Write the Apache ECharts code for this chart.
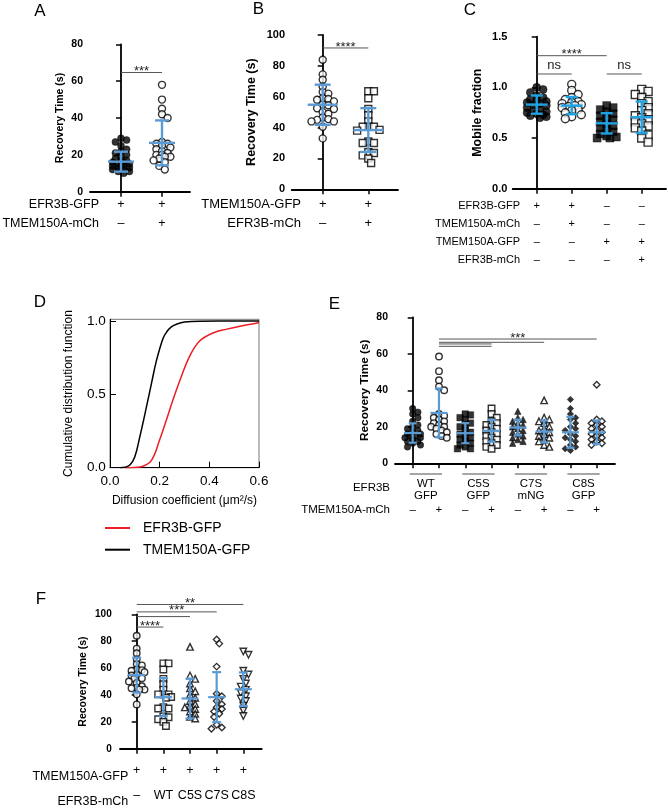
<!DOCTYPE html>
<html><head><meta charset="utf-8">
<script src="https://cdn.jsdelivr.net/npm/echarts@6/dist/echarts.min.js"></script>
<style>html,body{margin:0;padding:0;background:#fff}#c{width:668px;height:808px}</style>
</head><body><div id="c"></div>
<script>
const FONT = '"Liberation Sans", Arial, Helvetica, sans-serif';

// ---------- Panel A ----------
const A_rowNames = ['EFR3B-GFP', 'TMEM150A-mCh'];
const A_colLabels = ['+\n–', '+\n+'];
const A_efr = [29, 28, 27, 25, 23, 22, 21, 20, 19, 18, 17, 17, 16, 16, 15, 15, 14, 14, 14, 13, 13, 12, 12, 11, 11, 10];
const A_efrTmem = [58, 50, 45, 42, 40, 27, 26, 26, 25, 24, 23, 22, 21, 20, 20, 19, 19, 18, 17, 16, 14, 12];
const A_means = [16.3, 26.5];
const A_sds = [5.4, 12.2];
const A_sig = [[0, 1, 64.7, '***']];

// ---------- Panel B ----------
const B_rowNames = ['TMEM150A-GFP', 'EFR3B-mCh'];
const B_colLabels = ['+\n–', '+\n+'];
const B_tmem = [84, 74.5, 71, 66.5, 63, 62, 59, 58.5, 58, 57, 55, 54.5, 52.5, 52, 50, 49, 46.5, 45.5, 45, 44, 44, 40.5, 33];
const B_tmemEfr = [63.5, 63.5, 59, 52, 48, 44, 40.5, 40.5, 40.5, 38.5, 38, 31, 30, 30, 24, 23.5, 22, 20, 17];
const B_means = [54.8, 38.4];
const B_sds = [13, 14.2];
const B_sig = [[0, 1, 91.6, '****']];

// ---------- Panel C ----------
const C_rowNames = ['EFR3B-GFP', 'TMEM150A-mCh', 'TMEM150A-GFP', 'EFR3B-mCh'];
const C_colLabels = ['+\n–\n–\n–', '+\n+\n–\n–', '–\n–\n+\n–', '–\n–\n+\n+'];
const C_efr = [1.0, 0.98, 0.95, 0.92, 0.9, 0.88, 0.87, 0.86, 0.85, 0.84, 0.83, 0.82, 0.8, 0.78, 0.77, 0.76, 0.75, 0.74, 0.73, 0.72, 0.71, 0.70];
const C_efrTmem = [1.03, 0.97, 0.93, 0.9, 0.88, 0.86, 0.85, 0.84, 0.83, 0.82, 0.81, 0.8, 0.78, 0.77, 0.75, 0.73, 0.71, 0.69];
const C_tmem = [0.82, 0.8, 0.78, 0.76, 0.74, 0.72, 0.7, 0.68, 0.66, 0.64, 0.62, 0.6, 0.58, 0.56, 0.54, 0.52, 0.51, 0.5, 0.5];
const C_tmemEfr = [0.98, 0.96, 0.93, 0.9, 0.86, 0.84, 0.8, 0.77, 0.74, 0.72, 0.7, 0.68, 0.66, 0.64, 0.62, 0.6, 0.57, 0.53, 0.5, 0.46];
const C_means = [0.83, 0.82, 0.645, 0.705];
const C_sds = [0.09, 0.085, 0.1, 0.155];
const C_sig = [[0, 2, 1.3125, '****'], [0, 1, 1.132, 'ns'], [2, 3, 1.132, 'ns']];

// ---------- Panel D ----------
const D_names = ['EFR3B-GFP', 'TMEM150A-GFP'];
const D_redX = [0.06, 0.1, 0.133, 0.167, 0.2, 0.227, 0.253, 0.287, 0.32, 0.36, 0.417, 0.47, 0.524, 0.578, 0.6];
const D_redY = [0, 0.002, 0.01, 0.05, 0.19, 0.325, 0.46, 0.62, 0.757, 0.862, 0.92, 0.945, 0.965, 0.982, 0.99];
const D_blackX = [0.04, 0.06, 0.08, 0.1, 0.12, 0.147, 0.167, 0.187, 0.213, 0.228, 0.247, 0.27, 0.3, 0.36, 0.6];
const D_blackY = [0, 0.003, 0.018, 0.075, 0.21, 0.416, 0.575, 0.73, 0.88, 0.925, 0.96, 0.98, 0.993, 0.999, 1.0];

// ---------- Panel E ----------
const E_rowNames = ['EFR3B', 'TMEM150A-mCh'];
const E_colLabels = ['–', '+', '–', '+', '–', '+', '–', '+'];
const E_pairLabels = ['WT\nGFP', 'C5S\nGFP', 'C7S\nmNG', 'C8S\nGFP'];
const E_wt = [30, 28, 27, 25, 23, 21, 20, 19, 18, 17, 16, 16, 15, 15, 14, 14, 13, 12, 12, 11, 10, 9];
const E_wtTmem = [58.5, 50.5, 45.5, 42, 40, 27, 26, 25, 24, 23, 22, 21, 20, 20, 19, 18, 17, 16, 15, 14];
const E_c5s = [27, 26.5, 25, 24, 22, 21, 20, 18, 17, 16, 15, 14, 13, 12, 11, 10, 9, 8, 8];
const E_c5sTmem = [30, 27, 25, 23, 22, 21, 20, 19, 18, 17, 16, 15, 14, 13, 12, 11, 10, 9, 8];
const E_c7s = [28.5, 25, 24, 23, 22, 21, 20, 19, 18, 17, 16, 15, 14, 13, 12, 11];
const E_c7sTmem = [34.5, 25, 24, 23, 22, 20, 19, 18, 17, 16, 15, 14, 13, 12, 10, 9];
const E_c8s = [35, 30, 27, 25, 24, 22, 20, 19, 18, 16, 15, 14, 13, 12, 10, 9, 8, 7];
const E_c8sTmem = [43, 24, 23, 22, 21, 20, 19, 18, 17, 16, 15, 14, 13, 12, 11, 10];
const E_means = [16.6, 27.6, 16.5, 17.8, 19.6, 17.4, 17.0, 17.0];
const E_sds = [5.3, 13.4, 5.5, 6.0, 4.3, 6.0, 8.5, 6.5];
const E_sig = [[1, 7, 68.1, '***'], [1, 5, 66.3, ''], [1, 3, 65.4, ''], [1, 3, 64.1, '']];

// ---------- Panel F ----------
const F_rowNames = ['TMEM150A-GFP', 'EFR3B-mCh'];
const F_colLabels = ['+\n–', '+\nWT', '+\nC5S', '+\nC7S', '+\nC8S'];
const F_none = [84, 74.5, 71, 66.5, 63, 62, 59, 58.5, 58, 57, 55, 54.5, 52.5, 52, 50, 49, 46.5, 45.5, 45, 44, 44, 40.5, 33];
const F_wt = [63.5, 63.5, 59, 52, 48, 44, 40.5, 40.5, 40.5, 38.5, 38, 31, 30, 30, 24, 23.5, 22, 20, 17];
const F_c5s = [75.8, 54.5, 52, 48.6, 45, 42.7, 40.3, 37.9, 35.5, 33.2, 32, 30.8, 29.6, 27.7, 26, 23.7, 22.5];
const F_c7s = [81.3, 78.2, 61.1, 41, 39, 35.5, 33.2, 30.8, 29.6, 27.7, 26, 23.7, 17.8, 15.9, 14.9];
const F_c8s = [72.3, 69.9, 58, 55.2, 52, 48.6, 46.2, 43.8, 41.5, 39.1, 37.4, 35.5, 32, 28.4, 24.4];
const F_means = [54.8, 38.4, 37.4, 38.4, 44.3];
const F_sds = [13, 14.2, 14.8, 18.6, 12.5];
const F_sig = [[0, 4, 107.3, '**'], [0, 3, 101.8, '***'], [0, 2, 98.3, ''], [0, 1, 90.5, '****']];

// ================= build =================
const option = {
  animation: false,
  backgroundColor: '#fff',
  textStyle: { fontFamily: FONT },
  grid: [], xAxis: [], yAxis: [], series: [], graphic: []
};

// dot-plot layout: spread points sideways only as far as maxOff pixels
function swarm(vals, cat, pxX, pxY, size, maxOff) {
  const order = vals.map((v, i) => i).sort((a, b) => vals[b] - vals[a]);
  const placed = [], out = [];
  const minD = size * 0.75, step = size * 0.4;
  const cands = [0];
  for (let k = 1; k * step <= maxOff + 0.01; k++) { cands.push(k * step, -k * step); }
  order.forEach(i => {
    const y = vals[i] * pxY;
    let best = 0, bestD = -1;
    for (const c of cands) {
      const d = placed.length ? Math.min(...placed.map(p => Math.hypot(p[0] - c, p[1] - y))) : 1e9;
      if (d >= minD) { best = c; bestD = d; break; }
      if (d > bestD) { bestD = d; best = c; }
    }
    placed.push([best, y]);
    out.push([cat + best / pxX, vals[i]]);
  });
  return out;
}

function dotPanel(P) {
  const gi = option.grid.length;
  option.grid.push(Object.assign({ containLabel: false }, P.grid));
  const cats = P.colLabels.map((s, i) => i);
  option.xAxis.push({
    type: 'value', gridIndex: gi, min: P.xMin, max: P.xMax,
    axisLine: { show: true, onZero: false, lineStyle: { color: '#000', width: 1.8 } },
    axisTick: { show: true, customValues: cats, length: 5, lineStyle: { color: '#000', width: 1.5 } },
    axisLabel: { customValues: cats, formatter: v => P.colLabels[Math.round(v)], color: '#000',
      fontSize: P.colFont, lineHeight: P.colLH, margin: P.colMargin, fontFamily: FONT },
    splitLine: { show: false }
  });
  option.yAxis.push({
    type: 'value', gridIndex: gi, min: 0, max: P.yMax, interval: P.yInterval,
    axisLine: { show: true, lineStyle: { color: '#000', width: 1.8 } },
    axisTick: { show: true, length: 5, lineStyle: { color: '#000', width: 1.5 } },
    axisLabel: { color: '#000', fontWeight: 'bold', fontSize: P.tickFont, margin: P.yLabelMargin,
      fontFamily: FONT, formatter: v => P.yDecimals ? v.toFixed(P.yDecimals) : String(v) },
    splitLine: { show: false },
    name: P.title, nameLocation: 'middle', nameGap: P.titleGap,
    nameTextStyle: { color: '#000', fontWeight: 'bold', fontSize: P.titleFont, fontFamily: FONT }
  });
  const pxX = P.grid.width / (P.xMax - P.xMin);
  const pxY = P.grid.height / P.yMax;
  P.groups.forEach((g, k) => {
    option.series.push({
      type: 'scatter', name: P.id + '_g' + k, xAxisIndex: gi, yAxisIndex: gi, z: 3,
      symbol: g.sym, symbolSize: P.symSize, symbolRotate: g.rot || 0,
      itemStyle: g.open ? { color: '#fff', borderColor: '#000', borderWidth: 1.4 }
                        : { color: '#000', borderColor: '#000', borderWidth: 0.5 },
      data: swarm(g.vals, k, pxX, pxY, P.symSize, P.spread)
    });
  });
  option.series.push({
    type: 'custom', name: P.id + '_err', xAxisIndex: gi, yAxisIndex: gi, z: 6, clip: false,
    data: P.means.map((m, k) => [k, m, P.sds[k]]),
    renderItem: (params, api) => {
      const x = api.value(0), m = api.value(1), s = api.value(2);
      const c = api.coord([x, m]), t = api.coord([x, m + s]), b = api.coord([x, m - s]);
      const st = { stroke: P.barColor, lineWidth: P.barW };
      return { type: 'group', children: [
        { type: 'line', shape: { x1: c[0], y1: t[1], x2: c[0], y2: b[1] }, style: st },
        { type: 'line', shape: { x1: c[0] - P.capW / 2, y1: t[1], x2: c[0] + P.capW / 2, y2: t[1] }, style: st },
        { type: 'line', shape: { x1: c[0] - P.capW / 2, y1: b[1], x2: c[0] + P.capW / 2, y2: b[1] }, style: st },
        { type: 'line', shape: { x1: c[0] - P.meanW / 2, y1: c[1], x2: c[0] + P.meanW / 2, y2: c[1] }, style: st }
      ] };
    }
  });
  option.series.push({
    type: 'custom', name: P.id + '_sig', xAxisIndex: gi, yAxisIndex: gi, z: 7, clip: false,
    data: P.sig.map((s, k) => [s[0], s[1], s[2], k]),
    renderItem: (params, api) => {
      const s = P.sig[params.dataIndex];
      const p1 = api.coord([s[0], s[2]]), p2 = api.coord([s[1], s[2]]);
      const ch = [{ type: 'line', shape: { x1: p1[0], y1: p1[1], x2: p2[0], y2: p2[1] },
        style: { stroke: '#555', lineWidth: 1 } }];
      if (s[3]) {
        const isNs = s[3] === 'ns';
        ch.push({ type: 'text', x: (p1[0] + p2[0]) / 2, y: p1[1] + (isNs ? -9 : -1),
          style: { text: s[3], fill: '#222', font: '13px ' + FONT,
            align: 'center', verticalAlign: 'middle' } });
      }
      return { type: 'group', children: ch };
    }
  });
  P.rowNames.forEach((r, i) => {
    option.graphic.push({ type: 'text', x: P.rowX, y: P.rowY[i],
      style: { text: r, fill: '#000', font: P.rowFont + 'px ' + FONT, align: 'right', verticalAlign: 'middle' } });
  });
  return gi;
}

// Panel A
dotPanel({ id: 'A', grid: { left: 90, top: 44.3, width: 100, height: 147.4 }, xMin: -0.756, xMax: 1.683,
  yMax: 80, yInterval: 20, tickFont: 10.5, yLabelMargin: 7, title: 'Recovery Time (s)', titleFont: 10.5, titleGap: 24.5,
  colLabels: A_colLabels, colFont: 12.5, colLH: 19, colMargin: 3.8,
  rowNames: A_rowNames, rowX: 99, rowY: [205, 224], rowFont: 12.5,
  groups: [{ vals: A_efr, sym: 'circle' }, { vals: A_efrTmem, sym: 'circle', open: true }],
  symSize: 7, spread: 10, means: A_means, sds: A_sds, barColor: '#5b9bd5', barW: 2.4, meanW: 26, capW: 14, sig: A_sig });

// Panel B
dotPanel({ id: 'B', grid: { left: 291.7, top: 35, width: 106.3, height: 154.3 }, xMin: -0.68, xMax: 1.651,
  yMax: 100, yInterval: 20, tickFont: 11, yLabelMargin: 6.7, title: 'Recovery Time (s)', titleFont: 12.5, titleGap: 33.5,
  colLabels: B_colLabels, colFont: 13, colLH: 19, colMargin: 5.5,
  rowNames: B_rowNames, rowX: 301, rowY: [204.3, 223.3], rowFont: 13,
  groups: [{ vals: B_tmem, sym: 'circle', open: true }, { vals: B_tmemEfr, sym: 'rect', open: true }],
  symSize: 7, spread: 14, means: B_means, sds: B_sds, barColor: '#5b9bd5', barW: 2.4, meanW: 30, capW: 16, sig: B_sig });

// Panel C
dotPanel({ id: 'C', grid: { left: 512.7, top: 36.7, width: 153.3, height: 152 }, xMin: -0.686, xMax: 3.694,
  yMax: 1.5, yInterval: 0.5, yDecimals: 1, tickFont: 11, yLabelMargin: 5.4, title: 'Mobile fraction', titleFont: 12.4, titleGap: 29,
  colLabels: C_colLabels, colFont: 11, colLH: 18.1, colMargin: 8,
  rowNames: C_rowNames, rowX: 520, rowY: [205.75, 223.85, 241.95, 260.05], rowFont: 11,
  groups: [{ vals: C_efr, sym: 'circle' }, { vals: C_efrTmem, sym: 'circle', open: true },
           { vals: C_tmem, sym: 'rect' }, { vals: C_tmemEfr, sym: 'rect', open: true }],
  symSize: 8, spread: 11, means: C_means, sds: C_sds, barColor: '#1fa2e3', barW: 2.4, meanW: 22, capW: 12, sig: C_sig });

// Panel E
const eIdx = dotPanel({ id: 'E', grid: { left: 395, top: 317.3, width: 220, height: 146 }, xMin: -0.673, xMax: 7.696,
  yMax: 80, yInterval: 20, tickFont: 10.5, yLabelMargin: 7, title: 'Recovery Time (s)', titleFont: 11.8, titleGap: 24,
  colLabels: E_colLabels, colFont: 11.5, colLH: 12, colMargin: 40.2,
  rowNames: E_rowNames, rowX: 390, rowY: [488, 509.5], rowFont: 11.5,
  groups: [{ vals: E_wt, sym: 'circle' }, { vals: E_wtTmem, sym: 'circle', open: true },
           { vals: E_c5s, sym: 'rect' }, { vals: E_c5sTmem, sym: 'rect', open: true },
           { vals: E_c7s, sym: 'triangle' }, { vals: E_c7sTmem, sym: 'triangle', open: true },
           { vals: E_c8s, sym: 'diamond' }, { vals: E_c8sTmem, sym: 'diamond', open: true }],
  symSize: 6.5, spread: 8, means: E_means, sds: E_sds, barColor: '#5b9bd5', barW: 2.2, meanW: 17, capW: 8, sig: E_sig });

option.series.push({
  type: 'custom', name: 'E_pairs', xAxisIndex: eIdx, yAxisIndex: eIdx, z: 4, clip: false,
  data: E_pairLabels.map((s, k) => [2 * k, 2 * k + 1]),
  renderItem: (params, api) => {
    const p1 = api.coord([api.value(0), 0]), p2 = api.coord([api.value(1), 0]);
    return { type: 'group', children: [
      { type: 'line', shape: { x1: p1[0] - 3, y1: p1[1] + 10.7, x2: p2[0] + 3, y2: p1[1] + 10.7 },
        style: { stroke: '#888', lineWidth: 1.3 } },
      { type: 'text', x: (p1[0] + p2[0]) / 2, y: p1[1] + 26.4,
        style: { text: E_pairLabels[params.dataIndex], fill: '#000', font: '11.5px ' + FONT,
          lineHeight: 12.4, align: 'center', verticalAlign: 'middle' } }
    ] };
  }
});

// Panel F
dotPanel({ id: 'F', grid: { left: 120, top: 614.3, width: 141.7, height: 140.7 }, xMin: -0.627, xMax: 4.69,
  yMax: 100, yInterval: 20, tickFont: 10, yLabelMargin: 8.3, title: 'Recovery Time (s)', titleFont: 10.5, titleGap: 31.5,
  colLabels: F_colLabels, colFont: 12.5, colLH: 25, colMargin: 9.2,
  rowNames: F_rowNames, rowX: 128.3, rowY: [776.7, 801.7], rowFont: 12.5,
  groups: [{ vals: F_none, sym: 'circle', open: true }, { vals: F_wt, sym: 'rect', open: true },
           { vals: F_c5s, sym: 'triangle', open: true }, { vals: F_c7s, sym: 'diamond', open: true },
           { vals: F_c8s, sym: 'triangle', open: true, rot: 180 }],
  symSize: 6.5, spread: 9, means: F_means, sds: F_sds, barColor: '#5b9bd5', barW: 2.2, meanW: 17, capW: 9, sig: F_sig });

// Panel D
const dIdx = option.grid.length;
option.grid.push({ left: 110, top: 319.3, width: 149, height: 148.4, show: true, borderColor: '#777', borderWidth: 1, backgroundColor: 'transparent' });
option.xAxis.push({ type: 'value', gridIndex: dIdx, min: 0, max: 0.6, interval: 0.2,
  axisLine: { show: true, onZero: false, lineStyle: { color: '#000', width: 1 } },
  axisTick: { show: true, inside: true, length: 6, lineStyle: { color: '#000' } },
  axisLabel: { color: '#000', fontSize: 13.5, margin: 7, formatter: v => v.toFixed(1) },
  splitLine: { show: false },
  name: 'Diffusion coefficient (μm²/s)', nameLocation: 'middle', nameGap: 27,
  nameTextStyle: { color: '#000', fontSize: 12 } });
option.yAxis.push({ type: 'value', gridIndex: dIdx, min: 0, max: 1.012,
  axisLine: { show: true, lineStyle: { color: '#000', width: 1 } },
  axisTick: { show: true, inside: true, length: 6, customValues: [0, 0.5, 1], lineStyle: { color: '#000' } },
  axisLabel: { color: '#000', fontSize: 13.5, margin: 4.3, customValues: [0, 0.5, 1], formatter: v => v.toFixed(1) },
  splitLine: { show: false },
  name: 'Cumulative distribution function', nameLocation: 'middle', nameGap: 35,
  nameTextStyle: { color: '#000', fontSize: 12 } });
option.series.push({ type: 'line', name: D_names[0], xAxisIndex: dIdx, yAxisIndex: dIdx, smooth: 0.4,
  symbol: 'none', lineStyle: { color: '#ee1c24', width: 1.5 }, itemStyle: { color: '#ee1c24' }, z: 3,
  data: D_redX.map((x, i) => [x, D_redY[i]]) });
option.series.push({ type: 'line', name: D_names[1], xAxisIndex: dIdx, yAxisIndex: dIdx, smooth: 0.4,
  symbol: 'none', lineStyle: { color: '#000', width: 1.5 }, itemStyle: { color: '#000' }, z: 3,
  data: D_blackX.map((x, i) => [x, D_blackY[i]]) });
option.legend = { data: D_names, left: 105, top: 521, padding: 0, orient: 'vertical', icon: 'rect',
  itemWidth: 25, itemHeight: 2, itemGap: 7.7,
  textStyle: { fontSize: 14, lineHeight: 14, color: '#000', padding: [0, 0, 0, 8], fontFamily: FONT } };

// Panel letters
[['A', 40, 10.9], ['B', 258.5, 9.5], ['C', 470, 10.3], ['D', 40, 302], ['E', 334.5, 304], ['F', 41, 599]].forEach(l => {
  option.graphic.push({ type: 'text', x: l[1], y: l[2],
    style: { text: l[0], fill: '#000', font: '17px ' + FONT, align: 'center', verticalAlign: 'middle' } });
});

const chart = echarts.init(document.getElementById('c'), null, { renderer: 'canvas' });
chart.setOption(option);
</script>
</body></html>
